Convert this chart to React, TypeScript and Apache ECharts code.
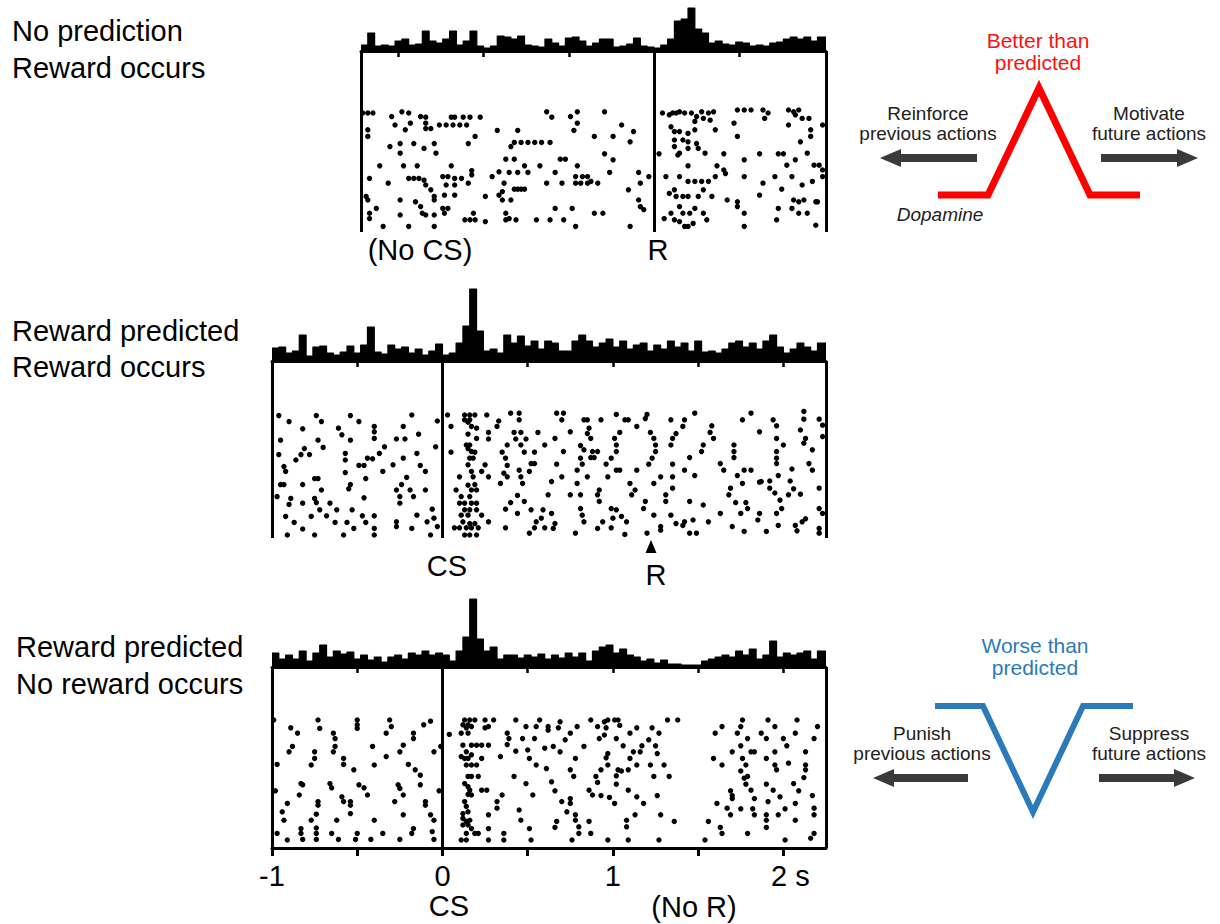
import React, { useEffect, useRef } from "react";
import * as echarts from "echarts";

const FONT = "'Liberation Sans', Arial, Helvetica, sans-serif";

// ---- time axes (seconds) ----
const BIN = 0.04;
const P1_START = -0.48;
const P1_END = 2.25;
const P1_REWARD = 1.24;
const P23_START = -1;
const P23_END = 2.25;
const CS_TIME = 0;
const P2_REWARD = 1.22;
const p1HistTicks = [-0.26, 0.24, 0.74, 1.74];
const p3AxisLabels = [-1, 0, 1, 2];

// ---- peri-event histograms (spikes per 40 ms bin, arbitrary scale) ----
const p1Hist = [
  6, 18, 5, 6, 5, 10, 12, 6, 7, 20,
  10, 8, 12, 20, 6, 10, 20, 5, 3, 5,
  15, 14, 12, 15, 6, 5, 4, 12, 8, 5,
  13, 14, 10, 5, 8, 12, 12, 4, 5, 7,
  13, 5, 4, 3, 6, 12, 30, 32, 43, 22,
  18, 8, 10, 7, 6, 9, 8, 5, 6, 5,
  8, 9, 12, 14, 12, 14, 10, 14,
];
const p2Hist = [
  13, 14, 8, 10, 26, 5, 14, 15, 8, 6,
  9, 15, 8, 16, 34, 9, 7, 16, 12, 14,
  8, 12, 6, 10, 17, 6, 8, 18, 35, 72,
  30, 10, 12, 8, 26, 18, 25, 15, 20, 12,
  20, 18, 10, 10, 20, 26, 20, 14, 18, 22,
  14, 20, 12, 16, 18, 10, 16, 12, 20, 14,
  18, 10, 20, 9, 10, 8, 12, 18, 20, 14,
  18, 12, 20, 26, 14, 8, 12, 18, 14, 10, 18,
];
const p3Hist = [
  14, 8, 12, 8, 16, 6, 14, 22, 10, 16,
  13, 15, 8, 12, 7, 10, 5, 10, 12, 8,
  14, 12, 16, 12, 14, 12, 6, 16, 30, 68,
  28, 16, 20, 8, 12, 12, 9, 12, 10, 13,
  8, 12, 9, 14, 10, 14, 6, 16, 20, 22,
  14, 18, 12, 10, 6, 8, 4, 7, 3, 3,
  2, 2, 2, 6, 8, 10, 12, 10, 16, 12,
  18, 8, 12, 26, 10, 14, 12, 14, 16, 8, 16,
];

// ---- rasters: [time (s), trial] ----
const p1Spikes = [
  [-0.47, 0], [-0.44, 0], [-0.41, 0], [-0.3, 0.6], [-0.24, -0.2], [-0.2, 0], [-0.13, 0.6], [-0.1, 0.7], [0.05, 0.7], [0.07, 0.7], [0.12, 0.7], [0.16, 0.7], [0.22, 0.7], [0.61, -0.2], [0.64, 0.7], [0.75, 0.6], [0.79, -0.2], [0.95, -0.2],
  [1.29, 0], [1.33, 0.3], [1.35, 0], [1.37, 0], [1.39, -0.2], [1.42, 0], [1.46, 0], [1.49, 0.6], [1.52, -0.2], [1.56, 0], [1.59, -0.2], [1.73, -0.5], [1.77, -0.5], [1.81, -0.5], [1.88, -0.5], [1.91, 0], [2.03, -0.5], [2.06, -0.2], [2.09, -0.5],
  [-0.28, 2], [-0.19, 1.7], [-0.1, 1.7], [-0.1, 2.6], [-0.02, 2], [0.02, 2], [0.06, 2], [0.1, 2], [0.14, 2], [0.79, 1.7], [1.05, 2], [1.48, 1.4], [1.53, 0.9], [1.57, 1.2], [1.71, 1.7], [1.89, 0.9], [2.03, 2], [2.07, 0.3], [2.11, 0.9], [2.15, 0.9], [2.23, 2],
  [-0.44, 2.8], [-0.44, 3.9], [-0.22, 2.8], [-0.07, 2.6], [0.19, 3.9], [0.32, 2.9], [0.44, 2.9], [0.77, 2.9], [0.89, 3.9], [1.0, 3.9], [1.12, 3.1], [1.34, 2.3], [1.36, 3.1], [1.39, 3.1], [1.44, 3.4], [1.48, 2.8], [1.6, 2.8], [1.73, 3.9], [2.16, 2.8], [2.16, 3.9],
  [-0.31, 5.6], [-0.25, 5.1], [-0.17, 5.1], [-0.11, 5.9], [-0.05, 5.1], [0.15, 5.1], [0.4, 5.6], [0.42, 4.9], [0.46, 4.9], [0.5, 4.9], [0.54, 4.9], [0.58, 4.9], [0.63, 4.9], [1.1, 4.8], [1.36, 4.5], [1.41, 4.5], [1.44, 4.8], [1.49, 5.1], [2.1, 4.8],
  [-0.25, 6.7], [-0.04, 6.7], [0.37, 7.7], [0.42, 7.7], [0.69, 7.7], [0.72, 7.7], [0.95, 6.8], [1.0, 7.8], [1.27, 6.8], [1.36, 5.6], [1.39, 6.7], [1.44, 5.9], [1.5, 5.9], [1.54, 6.7], [1.38, 7], [1.65, 6.8], [1.77, 7.8], [1.86, 6.8], [1.97, 6.8], [2.0, 6.8], [2.14, 6.7],
  [-0.37, 8.8], [-0.23, 8.8], [-0.15, 8.8], [0.05, 8.8], [0.17, 9.6], [0.48, 8.8], [0.57, 8.8], [0.79, 8.8], [2.02, 8.7], [2.07, 7.8], [1.44, 8.8], [1.61, 8.8], [1.65, 9.5], [2.18, 8.7], [2.21, 8.7], [2.23, 9.5],
  [-0.43, 10.9], [-0.2, 10.9], [-0.17, 10.9], [-0.14, 10.9], [-0.11, 11.2], [0.0, 10.6], [0.03, 10.6], [0.07, 10.9], [0.11, 10.9], [0.17, 10.3], [0.29, 10.6], [0.33, 9.8], [0.39, 9.9], [0.44, 9.9], [0.5, 9.9], [0.66, 9.9], [0.78, 10.6], [0.82, 10.6], [0.85, 10.6], [0.87, 11.4], [0.98, 9.9], [1.15, 9.9], [1.21, 10.6], [1.31, 10.6], [1.39, 10.6], [1.44, 11.4], [1.48, 11.4], [1.52, 11.4], [1.56, 11.4], [1.6, 10.6], [1.66, 10.1], [1.77, 10.6], [1.95, 10.6], [2.05, 10.6], [2.23, 10.6],
  [-0.32, 11.7], [-0.1, 12], [-0.07, 12.8], [0.02, 12], [0.07, 12], [0.15, 11.7], [0.36, 11.7], [0.42, 12.7], [0.44, 12.7], [0.46, 12.7], [0.48, 12.7], [0.61, 11.7], [0.7, 11.7], [0.78, 11.7], [0.81, 11.7], [0.85, 11.7], [0.91, 11.7], [1.16, 11.7], [1.36, 12.8], [1.53, 12.8], [1.88, 11.7], [1.99, 12.7], [2.11, 12], [2.17, 11.4],
  [-0.44, 14.5], [-0.45, 13.9], [-0.25, 14.5], [-0.16, 14.8], [-0.05, 13.9], [-0.05, 14.5], [0.01, 13.7], [0.07, 13.7], [0.25, 13.9], [0.33, 13.7], [0.35, 13.1], [0.35, 14.5], [0.4, 14.5], [1.09, 12.8], [1.15, 14.5], [1.33, 13.4], [1.37, 13.9], [1.41, 13.9], [1.44, 13.9], [1.5, 13.9], [1.58, 13.9], [1.67, 14.5], [1.73, 14.8], [1.86, 13.7], [2.06, 14.5], [2.09, 14.8], [2.12, 14.5], [2.2, 14.8],
  [-0.39, 15.9], [-0.43, 16.7], [-0.25, 17], [-0.13, 15.6], [-0.12, 16.7], [0.0, 15.9], [0.03, 15.9], [-0.1, 17], [-0.05, 17], [0.01, 16.7], [0.18, 16.7], [0.37, 16.7], [0.39, 17.6], [0.66, 15.9], [0.76, 15.9], [0.89, 16.7], [0.94, 16.7], [1.16, 15.6], [1.18, 16.1], [1.34, 16.7], [1.39, 15.6], [1.41, 16.7], [1.45, 16.7], [1.48, 15.9], [1.53, 16.7], [1.73, 15.6], [1.77, 16.7], [1.97, 15.9], [2.05, 15.9], [2.09, 16.7], [2.14, 16.7], [2.19, 14.8],
  [-0.43, 17.6], [-0.35, 18.9], [-0.2, 18.9], [-0.05, 18.9], [0.13, 17.8], [0.16, 17.8], [0.19, 17.8], [0.25, 18.1], [0.37, 17.8], [0.43, 17.8], [0.55, 17.8], [0.63, 17.8], [0.71, 17.8], [0.78, 18.9], [1.1, 18.9], [1.3, 17.6], [1.36, 17.8], [1.39, 18.1], [1.44, 18.9], [1.47, 18.4], [1.42, 18.9], [1.55, 17.8], [1.77, 18.9], [1.96, 17.8], [2.19, 18.7],
];

const p2Spikes = [
  [-0.96, 0.1], [-0.9, 1.1], [-0.82, 2.3], [-0.74, 0.1], [-0.71, 1.1], [-0.61, 2.2], [-0.59, 3.3], [-0.54, 0.1], [-0.49, 1.1], [-0.4, 1.9], [-0.4, 2.8], [-0.4, 3.9], [-0.18, 0], [-0.23, 1.9], [-0.14, 3.2], [-0.03, 1],
  [-0.95, 4.2], [-0.73, 4.2], [-0.7, 5.4], [-0.54, 4.2], [-0.27, 4], [-0.22, 4], [-0.34, 5.3], [-0.04, 5.3],
  [-0.96, 6.6], [-0.83, 6.6], [-0.81, 5.6], [-0.86, 7.5], [-0.78, 6.6], [-0.57, 6.4], [-0.57, 7.5], [-0.44, 7.2], [-0.41, 7.3], [-0.37, 6.4], [-0.23, 7.2], [-0.15, 6.4],
  [-0.93, 8.6], [-0.92, 9.4], [-0.49, 8.4], [-0.46, 8.4], [-0.29, 8.3], [-0.13, 8.4],
  [-0.57, 9.6], [-0.75, 10.6], [-0.73, 10.6], [-0.35, 9.4], [-0.45, 10.6], [-0.21, 10.4], [-0.1, 9.4],
  [-0.95, 11.6], [-0.93, 11.6], [-0.82, 11.6], [-0.71, 12.5], [-0.54, 11.6], [-0.55, 12.3], [-0.27, 12.5], [-0.24, 11.6], [-0.19, 12.5], [-0.1, 12.5],
  [-0.97, 13.6], [-0.89, 13.9], [-0.75, 13.9], [-0.74, 14.6], [-0.66, 14.7], [-0.46, 13.8], [-0.25, 13.6], [-0.17, 13.6],
  [-0.9, 14.9], [-0.82, 14.7], [-0.25, 14.7],
  [-0.72, 15.8], [-0.68, 16.8], [-0.62, 15.8], [-0.53, 15.8], [-0.47, 16.8], [-0.4, 16.8], [-0.15, 16.7], [-0.06, 15.7],
  [-0.92, 16.9], [-0.77, 16.9], [-0.87, 17.9], [-0.63, 17.9], [-0.56, 17.9], [-0.45, 17.9], [-0.27, 17.8], [-0.27, 18.6], [-0.09, 17.8], [-0.05, 17.2],
  [-0.82, 19], [-0.52, 18.9], [-0.4, 18.9], [-0.18, 18.9], [-0.03, 18.6],
  [-0.91, 20], [-0.75, 20], [-0.58, 20], [-0.4, 20], [-0.07, 20],
  [0.03, 0], [0.13, 0], [0.16, 0], [0.19, 0], [0.26, 0], [0.4, -0.3], [0.45, -0.3], [0.45, 0.8],
  [0.13, 0.8], [0.16, 0.8], [0.15, 1.2], [0.33, 1],
  [0.05, 1.9], [0.17, 1.9], [0.2, 2.2], [0.32, 1.9], [0.27, 2.9], [0.42, 2.9], [0.46, 2.9], [0.56, 2.9],
  [0.15, 3.2], [0.2, 3.9], [0.27, 4], [0.43, 4], [0.49, 4],
  [0.14, 5], [0.16, 5], [0.15, 5.6], [0.17, 6.1], [0.38, 5], [0.46, 5], [0.6, 5],
  [0.05, 6.2], [0.16, 7.2], [0.18, 7.2], [0.19, 6.2], [0.35, 6.2], [0.37, 7.2], [0.48, 6.2], [0.54, 6.2],
  [0.15, 8.3], [0.25, 8.3], [0.38, 8.4], [0.45, 9.2], [0.52, 8.1], [0.54, 8.1], [0.51, 9.4],
  [0.1, 10.3], [0.17, 9.4], [0.18, 10.3], [0.23, 9.4], [0.27, 10.3], [0.36, 9.7], [0.38, 10.3], [0.46, 10.3],
  [0.08, 12.5], [0.15, 11.7], [0.17, 12.5], [0.19, 11.6], [0.2, 12.5], [0.34, 11.4], [0.47, 11.4],
  [0.11, 13.6], [0.16, 13.6], [0.1, 14.7], [0.13, 14.7], [0.17, 14.7], [0.2, 14.7], [0.44, 13.4], [0.4, 14.6], [0.48, 14.4],
  [0.13, 15.8], [0.16, 15.8], [0.2, 15.8], [0.23, 16.7], [0.11, 16.7], [0.15, 16.7], [0.37, 15.7], [0.44, 16.4], [0.52, 15.8], [0.59, 15.8],
  [0.12, 17.8], [0.16, 18.1], [0.19, 18.1], [0.27, 17.8], [0.55, 17.8], [0.58, 17.2],
  [0.07, 18.8], [0.1, 18.8], [0.14, 18.8], [0.17, 18.8], [0.21, 18.8], [0.37, 18.8], [0.54, 18.8], [0.6, 18.8],
  [0.13, 20], [0.16, 20], [0.2, 20], [0.51, 19.7],
  [0.67, -0.3], [0.71, -0.3], [0.7, 0.8], [0.83, 0.8], [0.85, 0.8], [0.93, 0.8], [1.02, -0.1], [1.07, 0.8], [1.09, 0.8], [1.14, 1.9], [1.2, -0.1], [1.19, 0.6], [1.34, 0.8], [1.42, 0.8], [1.48, -0.3], [1.41, 1.9], [1.76, 0.8], [1.81, -0.3], [1.94, 0.8], [1.96, 1.8], [2.12, -0.6], [2.12, 0.7], [2.21, 0.7], [2.23, 1.7],
  [0.66, 3.9], [0.75, 2.8], [0.86, 2.2], [0.85, 3.1], [0.87, 3.9], [1.01, 3.9], [1.04, 2.9], [1.22, 2.9], [1.24, 3.9], [1.35, 3.9], [1.37, 3.1], [1.58, 1.8], [1.57, 2.9], [1.59, 3.9], [1.86, 2.8], [1.96, 3.9], [2.1, 2.5], [2.13, 3.9], [2.23, 3.6],
  [0.71, 6.1], [0.81, 5.1], [0.83, 5.8], [0.88, 6.1], [0.91, 6.1], [1.02, 5], [1.02, 6.1], [1.25, 5], [1.25, 6.1], [1.34, 5], [1.53, 5], [1.52, 6.1], [1.71, 5], [1.71, 6.1], [2.0, 5], [1.96, 6.1], [2.12, 4.7], [2.17, 5.8],
  [0.67, 8.2], [0.81, 7.2], [0.82, 8.2], [0.87, 7.1], [0.89, 7.1], [0.96, 8.2], [0.99, 7.2], [1.21, 8.2], [1.23, 7.2], [1.35, 8.2], [1.45, 7.1], [1.63, 8.1], [1.71, 7.1], [1.96, 7.2], [1.96, 8.1], [2.15, 8.1], [2.17, 9.2],
  [0.7, 10.3], [0.79, 9.2], [0.85, 10.3], [0.97, 10.3], [1.02, 9.2], [1.04, 9.2], [1.14, 9.2], [1.28, 10.3], [1.35, 10.3], [1.42, 9.2], [1.48, 10.1], [1.65, 9.2], [1.73, 10.1], [1.77, 9.2], [1.81, 9.2], [1.87, 11.1], [1.92, 11], [1.97, 10.1], [2.05, 9],
  [0.64, 11.1], [0.79, 11.4], [0.92, 12.5], [1.1, 11.4], [1.13, 12.5], [1.24, 11.4], [1.35, 12.2], [1.69, 12.2], [1.76, 11.4], [1.86, 11.2], [1.92, 12.2], [1.95, 13], [2.04, 11], [2.06, 12.3], [2.1, 13.2], [2.21, 12.2],
  [0.62, 13.3], [0.75, 13.3], [0.81, 13.3], [0.92, 14.4], [0.91, 13.3], [1.11, 13.3], [1.19, 14.4], [1.31, 13.3], [1.31, 14.4], [1.45, 14.4], [1.53, 15], [1.68, 13.3], [1.72, 14.6], [1.78, 14.6], [1.79, 15.6], [1.98, 14.2], [2.03, 13.3],
  [0.64, 16.4], [0.81, 15.6], [0.82, 16.7], [0.99, 15.6], [1.02, 15.8], [1.18, 15.6], [1.24, 16.7], [1.34, 16.7], [1.42, 17.8], [1.47, 17.5], [1.63, 16.4], [1.75, 16.4], [1.86, 16.4], [1.96, 16.4], [1.99, 15.6], [2.13, 17.3], [2.21, 15.6], [2.23, 16.4],
  [0.66, 18.1], [0.83, 17.8], [0.94, 17.8], [1.0, 17.2], [1.05, 16.9], [1.08, 17.8], [1.28, 18.6], [1.37, 18.1], [1.41, 18.4], [1.56, 17.8], [1.7, 18.6], [1.85, 17.5], [1.97, 18.4], [2.07, 18.4], [2.11, 17.8],
  [0.65, 18.9], [0.78, 19.7], [0.91, 18.9], [0.99, 18.8], [1.07, 19.9], [1.2, 19.7], [1.28, 19.2], [1.45, 19.7], [1.49, 19.7], [1.77, 19.4], [1.9, 19.4], [2.08, 19.3], [2.21, 18.9], [2.21, 19.7],
];

const p3Spikes = [
  [-0.99, 0], [-0.73, 0], [-0.72, 1.4], [-0.89, 1.3], [-0.85, 2.2], [-0.64, 2.2], [-0.63, 3.1], [-0.5, 0], [-0.5, 0.8], [-0.5, 1.4], [-0.31, 0], [-0.3, 1.1], [-0.33, 2.2], [-0.17, 2.2], [-0.17, 3.1], [-0.11, 0.8], [-0.07, 0.2],
  [-0.88, 4.4], [-0.9, 5.3], [-0.75, 5.3], [-0.75, 6.4], [-0.63, 4.4], [-0.64, 5.3], [-0.58, 6.4], [-0.58, 7.4], [-0.41, 4.4], [-0.33, 6.1], [-0.23, 4.2], [-0.25, 5.3], [-0.05, 5.3], [-0.01, 4.4],
  [-0.97, 7.4], [-0.77, 7.5], [-0.52, 8.3], [-0.4, 7.5], [-0.2, 7.4], [-0.16, 8.3], [-0.13, 9.2],
  [-0.83, 10.6], [-0.82, 10.8], [-0.84, 12.5], [-0.66, 10.6], [-0.65, 11.3], [-0.49, 10.8], [-0.46, 11.3], [-0.44, 12.5], [-0.26, 10.8], [-0.25, 11.4], [-0.23, 12.5], [-0.13, 10.8], [-0.02, 11.8],
  [-0.98, 11.8], [-0.73, 13.6], [-0.73, 14.2], [-0.58, 13.6], [-0.59, 12.8], [-0.54, 13.6], [-0.54, 14.2], [-0.28, 13.6], [-0.1, 13.6], [-0.1, 14.2],
  [-0.91, 13.9], [-0.94, 15.3], [-0.93, 16.7], [-0.77, 16.7], [-0.74, 15.7], [-0.62, 16.7], [-0.54, 15.6], [-0.4, 16.7], [-0.23, 15.8], [-0.07, 15.8], [-0.05, 16.7],
  [-0.97, 18.9], [-0.83, 18.1], [-0.83, 18.9], [-0.74, 18], [-0.74, 18.9], [-0.65, 18.9], [-0.5, 18.9], [-0.35, 18.9], [-0.17, 18.1], [-0.18, 18.9], [-0.06, 18.6],
  [-0.91, 20], [-0.82, 19.9], [-0.74, 19.9], [-0.61, 19.9], [-0.51, 19.9], [-0.42, 19.9], [-0.25, 19.9], [-0.05, 19.9],
  [0.13, 0], [0.16, 0], [0.19, 0], [0.25, 0], [0.3, 0], [0.43, 0], [0.57, 0],
  [0.12, 0.8], [0.15, 0.8], [0.14, 1.3], [0.17, 1.1], [0.25, 1.3], [0.27, 1.1], [0.49, 1.1], [0.55, 1.1], [0.62, 1.7],
  [0.04, 2.4], [0.11, 2.2], [0.15, 2.2], [0.38, 2.2], [0.39, 3.1], [0.47, 3.1], [0.54, 3.1],
  [0.12, 4.2], [0.17, 4.2], [0.2, 4.2], [0.23, 4.2], [0.27, 4.2], [0.38, 4.1], [0.5, 5], [0.6, 4.7],
  [0.11, 6.1], [0.13, 6.4], [0.15, 6.4], [0.17, 5.8], [0.14, 5.3], [0.23, 6.4], [0.34, 6.1], [0.43, 5.2], [0.51, 6.4], [0.55, 7.5],
  [0.14, 7.5], [0.17, 7.5], [0.2, 7.5], [0.61, 8.1],
  [0.15, 9.4], [0.17, 9.4], [0.21, 9.4], [0.42, 9.4], [0.49, 10.6],
  [0.13, 10.6], [0.15, 11.1], [0.16, 11.7], [0.15, 12.4], [0.23, 11.7], [0.26, 11.7], [0.17, 12.5], [0.35, 12.5], [0.53, 12.5],
  [0.13, 13.6], [0.14, 14.4], [0.12, 15.6], [0.15, 15.3], [0.32, 13.6], [0.32, 14.7], [0.45, 15],
  [0.12, 16.4], [0.14, 16.9], [0.16, 16.7], [0.27, 15.8], [0.46, 16.7],
  [0.12, 17.5], [0.15, 17.5], [0.17, 18.1], [0.14, 18.9], [0.19, 18.9], [0.21, 18.9], [0.27, 18.1], [0.36, 18.9], [0.51, 18.1],
  [0.11, 20], [0.14, 20], [0.27, 20], [0.36, 20], [0.52, 20],
  [0.62, 1.1], [0.69, 0.3], [0.68, 1.3], [0.79, 1.1], [0.87, 0], [0.91, 1.1], [0.95, 0.3], [0.97, 0], [1.01, 0], [1.03, 0], [1.04, 0.9], [0.96, 1.3], [1.14, 1.3], [1.1, 2.2], [1.23, 1.3], [1.27, 2.2], [1.32, 0], [1.38, 0],
  [0.72, 3.3], [0.75, 2.2], [0.65, 4.4], [0.69, 5.3], [0.83, 4.4], [0.92, 3.1], [0.95, 2.5], [1.02, 3.1], [1.06, 4.3], [1.17, 4.3], [1.21, 3.3], [1.25, 4.3],
  [0.78, 6.4], [0.96, 6.3], [0.97, 5.6], [1.1, 6.4], [1.12, 5.3], [1.16, 5.3], [1.26, 5.6],
  [0.75, 8.3], [0.77, 9.4], [0.93, 8.3], [0.97, 7.5], [1.03, 8.3], [1.09, 8.3], [1.05, 8.5], [1.14, 7.5], [1.22, 7.5], [1.3, 7.5],
  [0.64, 10.3], [0.66, 11.8], [0.9, 9.4], [0.91, 10.4], [1.02, 9.3], [1.02, 10.7], [1.09, 11.7], [1.24, 9.4], [1.33, 9.4],
  [0.7, 13.6], [0.75, 13.1], [0.75, 13.9], [0.86, 11.7], [0.88, 12.5], [0.93, 12.6], [0.98, 12.9], [1.01, 13.9], [1.14, 12.8], [1.18, 13.9], [1.26, 12.6],
  [0.67, 16.9], [0.73, 15.3], [0.78, 15.8], [0.78, 16.7], [0.86, 16.9], [1.08, 16.7], [1.08, 17.8], [1.13, 15.8], [1.28, 15.8], [1.36, 16.9],
  [0.66, 17.9], [0.8, 17.8], [0.8, 18.9], [0.87, 18.9], [0.76, 20], [0.97, 20], [1.09, 20], [1.27, 20],
  [1.6, 2.2], [1.64, 1.1], [1.73, 2.2], [1.76, 0], [1.75, 1.1], [1.79, 3.1], [1.83, 5.3], [1.81, 5.3], [1.87, 2.2], [1.91, 0], [1.95, 1.1], [1.9, 3.1], [2.0, 3.1], [2.02, 4.3], [2.07, 2.2], [2.08, 0], [2.18, 3.1], [2.2, 1.1],
  [1.59, 6.4], [1.7, 5.3], [1.75, 4.3], [1.76, 6.4], [1.9, 6.4], [1.95, 5.3], [2.13, 5.3],
  [1.64, 7.5], [1.75, 8.5], [1.78, 7.5], [1.79, 9.4], [1.77, 9.7], [1.95, 7.5], [1.96, 8.3], [2.03, 7.2], [2.13, 7.5], [2.13, 8.3], [2.12, 9.6],
  [1.78, 10.7], [1.81, 11.7], [1.9, 10.7], [1.94, 11.7], [2.06, 10.6], [2.09, 11.8],
  [1.69, 11.8], [1.7, 12.6], [1.7, 13.1], [1.83, 13.1], [1.91, 13.6], [1.98, 12.8], [2.07, 13.9], [2.17, 12.6],
  [1.61, 13.9], [1.67, 14.7], [1.69, 15.8], [1.75, 14.8], [1.82, 14.8], [1.83, 15.8], [1.9, 15.8], [1.97, 15.8], [2.01, 14.8], [2.07, 16.7], [2.18, 14.7], [2.18, 15.8],
  [1.56, 16.9], [1.63, 17.9], [1.64, 18.9], [1.79, 18.9], [1.9, 16.7], [1.9, 17.9],
  [1.54, 20], [2.01, 20], [2.18, 18.9], [2.16, 19.7],
];

// ---- layout of the three panels (pixels) ----
const PANELS = [
  { left: 361, width: 465, histTop: 4, histH: 47, rasterH: 181, yMin: -10.33, yMax: 19.83 },
  { left: 272, width: 554, histTop: 287, histH: 74, rasterH: 177, yMin: -9, yMax: 20.5 },
  { left: 272, width: 554, histTop: 595, histH: 72, rasterH: 181, yMin: -8.83, yMax: 21.33 },
];

function histData(start: number, end: number, values: number[]) {
  const d: number[][] = values.map((v, i) => [Math.round((start + i * BIN) * 1000) / 1000, v]);
  d.push([end, values[values.length - 1]]);
  return d;
}

function txt(text: string, x: number, y: number, size: number, align = "center", color = "#000", italic = false, lineHeight?: number) {
  return {
    type: "text",
    x,
    y,
    silent: true,
    style: {
      text,
      fill: color,
      fontSize: size,
      fontFamily: FONT,
      fontStyle: italic ? "italic" : "normal",
      lineHeight: lineHeight || Math.round(size * 1.2),
      textAlign: align,
      textVerticalAlign: "middle",
      align,
      verticalAlign: "middle",
    },
  };
}

function arrow(tipX: number, tailX: number, y: number) {
  const dir = tailX > tipX ? 1 : -1;
  const headX = tipX + dir * 21;
  return {
    type: "polygon",
    silent: true,
    shape: {
      points: [
        [tipX, y],
        [headX, y - 9],
        [headX, y - 4],
        [tailX, y - 4],
        [tailX, y + 4],
        [headX, y + 4],
        [headX, y + 9],
      ],
    },
    style: { fill: "#3a3a3a" },
  };
}

function buildOption() {
  const grids: any[] = [];
  const xAxes: any[] = [];
  const yAxes: any[] = [];
  PANELS.forEach((p) => {
    grids.push({ left: p.left, top: p.histTop, width: p.width, height: p.histH });
    grids.push({ left: p.left, top: p.histTop + p.histH, width: p.width, height: p.rasterH });
  });

  const ranges = [
    [P1_START, P1_END],
    [P23_START, P23_END],
    [P23_START, P23_END],
  ];

  PANELS.forEach((p, k) => {
    const [mn, mx] = ranges[k];
    xAxes.push({
      gridIndex: 2 * k,
      type: "value",
      min: mn,
      max: mx,
      interval: k === 0 ? undefined : 0.5,
      axisLine: { show: true, onZero: false, lineStyle: { color: "#000", width: 3 } },
      axisTick:
        k === 0
          ? { show: true, inside: false, length: 6, lineStyle: { color: "#000", width: 2.5 }, customValues: p1HistTicks }
          : { show: true, inside: false, length: 6, lineStyle: { color: "#000", width: 2.5 } },
      axisLabel: { show: false },
      splitLine: { show: false },
    });
    yAxes.push({ gridIndex: 2 * k, type: "value", min: 0, max: p.histH, show: false, splitLine: { show: false } });

    if (k < 2) {
      xAxes.push({ gridIndex: 2 * k + 1, type: "value", min: mn, max: mx, show: false, splitLine: { show: false } });
    } else {
      xAxes.push({
        gridIndex: 2 * k + 1,
        type: "value",
        min: mn,
        max: mx,
        interval: 0.5,
        position: "bottom",
        axisLine: { show: true, onZero: false, lineStyle: { color: "#000", width: 3 } },
        axisTick: { show: true, inside: false, length: 8, lineStyle: { color: "#000", width: 3 } },
        axisLabel: {
          show: true,
          margin: 13,
          fontSize: 29,
          fontFamily: FONT,
          color: "#000",
          showMinLabel: true,
          showMaxLabel: false,
          formatter: (v: number) => {
            const r = Math.round(v);
            if (Math.abs(v - r) > 1e-6 || p3AxisLabels.indexOf(r) < 0) return "";
            return r === 2 ? "{s|2 s}" : String(r);
          },
          rich: { s: { fontSize: 29, fontFamily: FONT, color: "#000", padding: [0, 0, 0, 14] } },
        },
        splitLine: { show: false },
      });
    }
    yAxes.push({ gridIndex: 2 * k + 1, type: "value", min: p.yMin, max: p.yMax, inverse: true, show: false, splitLine: { show: false } });
  });

  const hists = [p1Hist, p2Hist, p3Hist];
  const spikes = [p1Spikes, p2Spikes, p3Spikes];
  const events = [[P1_START, P1_REWARD, P1_END], [P23_START, CS_TIME, P23_END], [P23_START, CS_TIME, P23_END]];
  const series: any[] = [];
  PANELS.forEach((p, k) => {
    const [mn, mx] = ranges[k];
    series.push({
      type: "line",
      step: "end",
      xAxisIndex: 2 * k,
      yAxisIndex: 2 * k,
      data: histData(mn, mx, hists[k]),
      symbol: "none",
      silent: true,
      lineStyle: { color: "#000", width: 1.2 },
      areaStyle: { color: "#000", opacity: 1 },
    });
    series.push({
      type: "scatter",
      xAxisIndex: 2 * k + 1,
      yAxisIndex: 2 * k + 1,
      data: spikes[k],
      symbol: "circle",
      symbolSize: 5.4,
      silent: true,
      itemStyle: { color: "#000", opacity: 1 },
      markLine: {
        silent: true,
        symbol: ["none", "none"],
        label: { show: false },
        lineStyle: { color: "#000", width: 3, type: "solid", opacity: 1 },
        data: events[k].map((t) => ({ xAxis: t })),
      },
    });
  });

  const graphic: any[] = [
    txt("No prediction\nReward occurs", 12, 49.5, 29, "left", "#000", false, 37),
    txt("Reward predicted\nReward occurs", 12, 349, 29, "left", "#000", false, 36),
    txt("Reward predicted\nNo reward occurs", 16, 665.5, 29, "left", "#000", false, 37),
    txt("(No CS)", 420, 250, 29),
    txt("R", 658, 250, 29),
    txt("CS", 447, 566, 29),
    txt("R", 656, 575, 29),
    txt("CS", 449, 906, 29),
    txt("(No R)", 694, 907, 29),
    {
      type: "polygon",
      silent: true,
      shape: { points: [[651, 540], [645.5, 553], [656.5, 553]] },
      style: { fill: "#000" },
    },
    // better than predicted
    txt("Better than\npredicted", 1038, 51, 21, "center", "#ff1010", false, 22),
    txt("Reinforce\nprevious actions", 928, 123, 19, "center", "#222", false, 20),
    txt("Motivate\nfuture actions", 1149, 123, 19, "center", "#222", false, 20),
    txt("Dopamine", 940, 214, 19, "center", "#222", true),
    arrow(880, 977, 158),
    arrow(1198, 1101, 158),
    {
      type: "polyline",
      silent: true,
      shape: { points: [[938, 195], [988, 195], [1039, 88], [1090, 195], [1140, 195]] },
      style: { stroke: "#ff0000", lineWidth: 7, fill: null, lineJoin: "miter" },
    },
    // worse than predicted
    txt("Worse than\npredicted", 1035, 656, 21, "center", "#2b7bba", false, 22),
    txt("Punish\nprevious actions", 922, 743, 19, "center", "#222", false, 20),
    txt("Suppress\nfuture actions", 1149, 743, 19, "center", "#222", false, 20),
    arrow(873, 968, 778),
    arrow(1195, 1099, 778),
    {
      type: "polyline",
      silent: true,
      shape: { points: [[935, 706], [983, 706], [1033, 812], [1083, 706], [1133, 706]] },
      style: { stroke: "#2b7bba", lineWidth: 6, fill: null, lineJoin: "miter" },
    },
  ];

  return {
    animation: false,
    backgroundColor: "#ffffff",
    grid: grids,
    xAxis: xAxes,
    yAxis: yAxes,
    series,
    graphic,
  };
}

export default function App() {
  const ref = useRef<HTMLDivElement | null>(null);
  useEffect(() => {
    if (!ref.current) return;
    const chart = echarts.init(ref.current, null, { renderer: "svg" });
    chart.setOption(buildOption() as any);
    return () => chart.dispose();
  }, []);
  return (
    <div
      ref={ref}
      style={{ position: "fixed", left: 0, top: 0, width: 1220, height: 924, background: "#fff" }}
    />
  );
}
